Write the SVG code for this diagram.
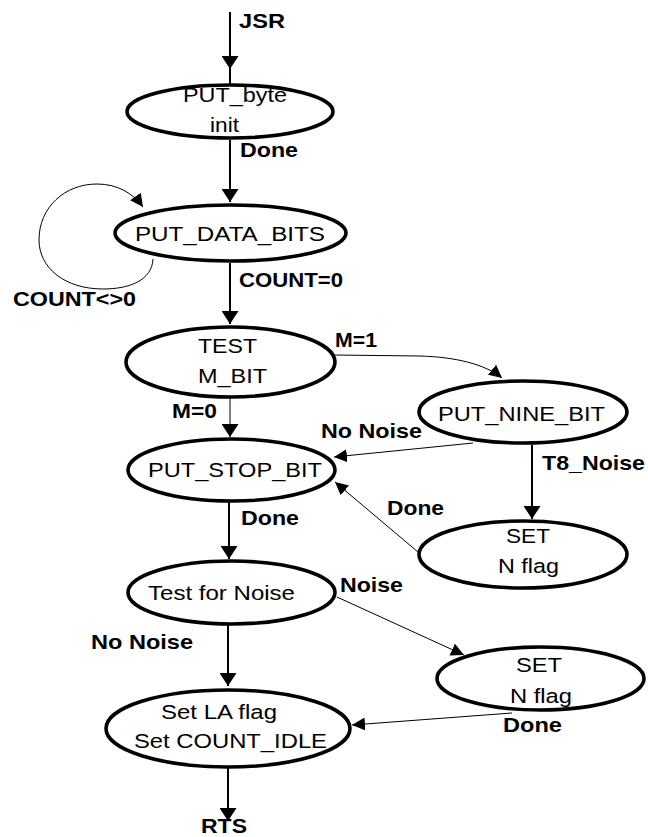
<svg xmlns="http://www.w3.org/2000/svg" width="648" height="837" viewBox="0 0 648 837">
<style>
.node ellipse{fill:#fff;stroke:#000;stroke-width:3.6}
text{font-family:"Liberation Sans",Arial,Helvetica,sans-serif;font-size:19.5px;fill:#000}
.lbl{font-weight:bold}
.thick{fill:none;stroke:#000;stroke-width:2}
.thin{fill:none;stroke:#000;stroke-width:1}
</style>
<defs>
<marker id="ab" markerUnits="userSpaceOnUse" viewBox="0 0 13 17" refX="13" refY="8.5" markerWidth="13" markerHeight="17" orient="auto"><path d="M0,0 L13,8.5 L0,17 z" fill="#000"/></marker>
<marker id="as" markerUnits="userSpaceOnUse" viewBox="0 0 13 13" refX="13" refY="6.5" markerWidth="13" markerHeight="13" orient="auto"><path d="M0,0 L13,6.5 L0,13 z" fill="#000"/></marker>
</defs>
<rect width="648" height="837" fill="#fff"/>
<g id="connectors">
<path class="thick" d="M230,12 L230,69" marker-end="url(#ab)"/>
<path class="thick" d="M230,69 L230,84"/>
<path class="thick" d="M230,140 L230,202" marker-end="url(#ab)"/>
<path class="thin" d="M153,259 C152,280 130,289 103,289 C65,289 39,268 39,240 C39,207 65,184 97,184 C117,184 133,193 143,207" marker-end="url(#as)"/>
<path class="thick" d="M230,263 L230,324" marker-end="url(#ab)"/>
<path class="thin" d="M334,355 L420,356 C455,357 485,364 502,378" marker-end="url(#as)"/>
<path class="thin" d="M230,397 L230,437" marker-end="url(#ab)"/>
<path class="thin" d="M473,443 L334,457" marker-end="url(#as)"/>
<path class="thick" d="M532,445 L532,519" marker-end="url(#ab)"/>
<path class="thin" d="M418,552 L335,482" marker-end="url(#as)"/>
<path class="thick" d="M229,501 L229,559" marker-end="url(#ab)"/>
<path class="thin" d="M337,597 L464,655" marker-end="url(#as)"/>
<path class="thick" d="M228,624 L228,686" marker-end="url(#ab)"/>
<path class="thin" d="M512,713 L352,725" marker-end="url(#as)"/>
<path class="thick" d="M228,768 L228,821" marker-end="url(#ab)"/>
</g>
<g id="n-putbyte" class="node">
<ellipse cx="230" cy="111.5" rx="103" ry="26.5"/>
<g transform="scale(1.2 1)">
<text x="152.5" y="102" textLength="86.67" lengthAdjust="spacingAndGlyphs">PUT_byte</text>
<text x="175" y="132" textLength="24.17" lengthAdjust="spacingAndGlyphs">init</text>
</g>
</g>
<g id="n-putdatabits" class="node">
<ellipse cx="230.5" cy="233" rx="115.5" ry="28"/>
<g transform="scale(1.2 1)">
<text x="112.5" y="241" textLength="158.33" lengthAdjust="spacingAndGlyphs">PUT_DATA_BITS</text>
</g>
</g>
<g id="n-testmbit" class="node">
<ellipse cx="230.5" cy="362" rx="104.5" ry="35"/>
<g transform="scale(1.2 1)">
<text x="165" y="353" textLength="49.17" lengthAdjust="spacingAndGlyphs">TEST</text>
<text x="165" y="383" textLength="57.5" lengthAdjust="spacingAndGlyphs">M_BIT</text>
</g>
</g>
<g id="n-putninebit" class="node">
<ellipse cx="523" cy="412" rx="104" ry="31"/>
<g transform="scale(1.2 1)">
<text x="365" y="421" textLength="139.17" lengthAdjust="spacingAndGlyphs">PUT_NINE_BIT</text>
</g>
</g>
<g id="n-putstopbit" class="node">
<ellipse cx="231.5" cy="470" rx="103.5" ry="31"/>
<g transform="scale(1.2 1)">
<text x="123.33" y="477" textLength="145" lengthAdjust="spacingAndGlyphs">PUT_STOP_BIT</text>
</g>
</g>
<g id="n-setnflag1" class="node">
<ellipse cx="523" cy="554.5" rx="104" ry="33.5"/>
<g transform="scale(1.2 1)">
<text x="421.67" y="543" textLength="36.67" lengthAdjust="spacingAndGlyphs">SET</text>
<text x="415" y="573" textLength="50.83" lengthAdjust="spacingAndGlyphs">N flag</text>
</g>
</g>
<g id="n-testnoise" class="node">
<ellipse cx="231.5" cy="592.5" rx="103.5" ry="31.5"/>
<g transform="scale(1.2 1)">
<text x="123.33" y="600" textLength="122.5" lengthAdjust="spacingAndGlyphs">Test for Noise</text>
</g>
</g>
<g id="n-setnflag2" class="node">
<ellipse cx="540.5" cy="678.5" rx="103.5" ry="31.5"/>
<g transform="scale(1.2 1)">
<text x="430" y="672" textLength="38.33" lengthAdjust="spacingAndGlyphs">SET</text>
<text x="425" y="703" textLength="51.67" lengthAdjust="spacingAndGlyphs">N flag</text>
</g>
</g>
<g id="n-setla" class="node">
<ellipse cx="228" cy="728.5" rx="122" ry="38.5"/>
<g transform="scale(1.2 1)">
<text x="134.17" y="719" textLength="96.67" lengthAdjust="spacingAndGlyphs">Set LA flag</text>
<text x="111.67" y="748" textLength="160.83" lengthAdjust="spacingAndGlyphs">Set COUNT_IDLE</text>
</g>
</g>
<g id="labels" transform="scale(1.2 1)">
<text class="lbl" x="199.17" y="28" textLength="38.33" lengthAdjust="spacingAndGlyphs">JSR</text>
<text class="lbl" x="200" y="157" textLength="48.33" lengthAdjust="spacingAndGlyphs">Done</text>
<text class="lbl" x="10.83" y="306" textLength="102.5" lengthAdjust="spacingAndGlyphs">COUNT&lt;&gt;0</text>
<text class="lbl" x="199.17" y="287" textLength="86.67" lengthAdjust="spacingAndGlyphs">COUNT=0</text>
<text class="lbl" x="279.17" y="347" textLength="35" lengthAdjust="spacingAndGlyphs">M=1</text>
<text class="lbl" x="143.33" y="418" textLength="37.5" lengthAdjust="spacingAndGlyphs">M=0</text>
<text class="lbl" x="267.5" y="438" textLength="84.17" lengthAdjust="spacingAndGlyphs">No Noise</text>
<text class="lbl" x="451.67" y="470" textLength="85.83" lengthAdjust="spacingAndGlyphs">T8_Noise</text>
<text class="lbl" x="322.5" y="515" textLength="47.5" lengthAdjust="spacingAndGlyphs">Done</text>
<text class="lbl" x="200.83" y="525" textLength="48.33" lengthAdjust="spacingAndGlyphs">Done</text>
<text class="lbl" x="283.33" y="592" textLength="52.5" lengthAdjust="spacingAndGlyphs">Noise</text>
<text class="lbl" x="75.83" y="649" textLength="85" lengthAdjust="spacingAndGlyphs">No Noise</text>
<text class="lbl" x="419.17" y="732" textLength="49.17" lengthAdjust="spacingAndGlyphs">Done</text>
<text class="lbl" x="167.5" y="833" textLength="38.33" lengthAdjust="spacingAndGlyphs">RTS</text>
</g>
</svg>
